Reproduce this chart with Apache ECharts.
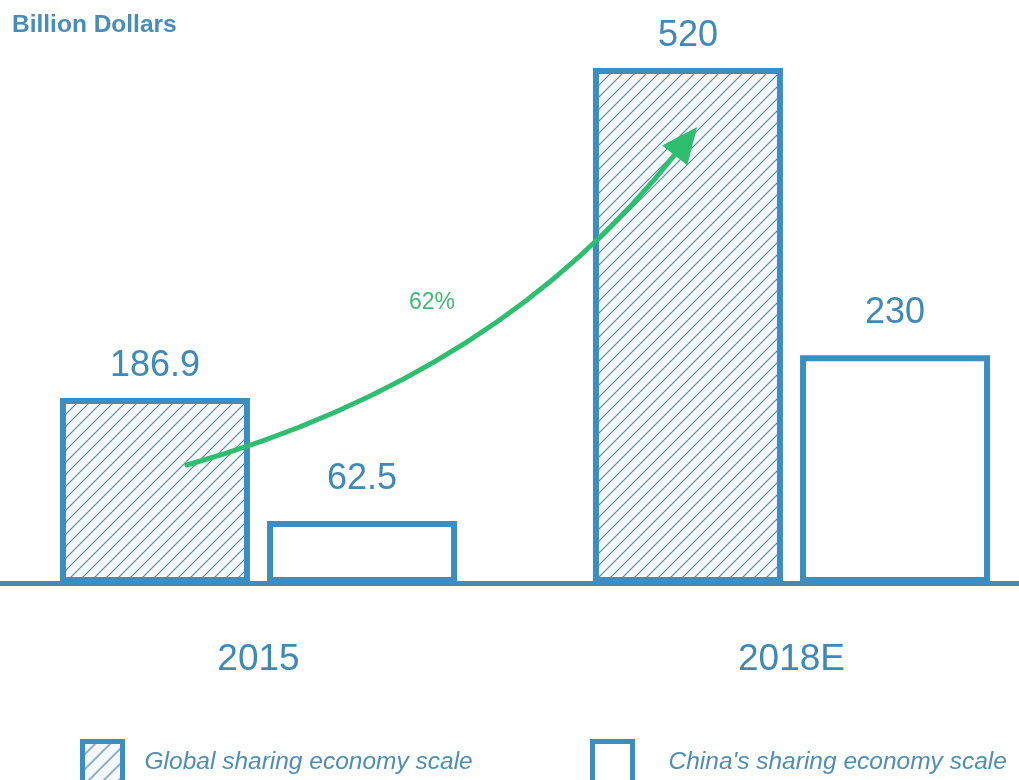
<!DOCTYPE html>
<html><head><meta charset="utf-8">
<script src="https://cdn.jsdelivr.net/npm/echarts@6/dist/echarts.min.js"></script>
<style>html,body{margin:0;padding:0;background:#fff}#c{width:1019px;height:780px}</style>
</head><body><div id="c"></div>
<script>
const categories = ['2015', '2018E'];
const globalScale = [186.9, 520];
const chinaScale = [62.5, 230];
const seriesNames = ['Global sharing economy scale', "China's sharing economy scale"];
const growthLabel = '62%';
const unitLabel = 'Billion Dollars';

const BLUE = '#3b8dc2';
const TXT = '#3f89b6';
const GREEN = '#2fbd6f';
const FONT = 'Liberation Sans, Arial, Helvetica, sans-serif';

function hatch(size, lw) {
  const c = document.createElement('canvas');
  c.width = size; c.height = size;
  const g = c.getContext('2d');
  g.fillStyle = '#f3f9fc';
  g.fillRect(0, 0, size, size);
  g.strokeStyle = '#62869f';
  g.lineWidth = lw;
  g.beginPath();
  g.moveTo(0, size); g.lineTo(size, 0);
  g.moveTo(-size / 2, size / 2); g.lineTo(size / 2, -size / 2);
  g.moveTo(size / 2, size * 1.5); g.lineTo(size * 1.5, size / 2);
  g.stroke();
  return c;
}
const hatchFill = { image: hatch(12, 1.2), repeat: 'repeat' };
const hatchFillLegend = { image: hatch(15, 1.3), repeat: 'repeat' };

const chart = echarts.init(document.getElementById('c'));

// arrow geometry (annotation)
const P0 = [187, 465], P1 = [501, 376], P2 = [677, 152];
const tip = [697, 127];
const dx = P2[0] - P1[0], dy = P2[1] - P1[1];
const L = Math.hypot(dx, dy);
const ux = dx / L, uy = dy / L;
const bx = tip[0] - 36 * ux, by = tip[1] - 36 * uy;
const px = -uy, py = ux;
const head = [[tip[0], tip[1]], [bx + 16 * px, by + 16 * py], [bx - 16 * px, by - 16 * py]];

const legendText = { fontSize: 24.5, fontStyle: 'italic', color: '#4f8db3', fontFamily: FONT };

chart.setOption({
  animation: false,
  backgroundColor: '#ffffff',
  textStyle: { fontFamily: FONT },
  grid: { left: -8, width: 1066, top: 68, bottom: 197, containLabel: false, outerBoundsMode: 'none' },
  title: {
    text: unitLabel, left: 7, top: 8,
    textStyle: { fontSize: 24.5, fontWeight: 'bold', color: '#4a8cb8', fontFamily: FONT }
  },
  legend: [
    { data: [seriesNames[0]], left: 80, top: 739, padding: 0, itemWidth: 40, itemHeight: 42, itemGap: 0,
      icon: 'rect',
      itemStyle: { color: hatchFillLegend, borderColor: BLUE, borderWidth: 5 },
      textStyle: Object.assign({ padding: [0, 0, 0, 17] }, legendText) },
    { data: [seriesNames[1]], left: 590, top: 739, padding: 0, itemWidth: 40, itemHeight: 42, itemGap: 0,
      icon: 'rect',
      itemStyle: { color: '#ffffff', borderColor: BLUE, borderWidth: 5 },
      textStyle: Object.assign({ padding: [0, 0, 0, 31] }, legendText) }
  ],
  xAxis: {
    type: 'category', data: categories,
    axisLine: { lineStyle: { color: BLUE, width: 5 } },
    axisTick: { show: false },
    axisLabel: { fontSize: 37, color: TXT, margin: 58 }
  },
  yAxis: { type: 'value', min: 0, max: 520, show: false, splitLine: { show: false } },
  series: [
    { name: seriesNames[0], type: 'bar', data: globalScale, barWidth: 190, barGap: '9%',
      itemStyle: { color: hatchFill, borderColor: BLUE, borderWidth: 6 },
      label: { show: true, position: 'top', distance: 14, fontSize: 36, color: TXT } },
    { name: seriesNames[1], type: 'bar', data: chinaScale, barWidth: 190,
      itemStyle: { color: '#ffffff', borderColor: BLUE, borderWidth: 6 },
      label: { show: true, position: 'top', distance: 24, fontSize: 36, color: TXT } }
  ],
  graphic: [
    { type: 'bezierCurve', z: 100,
      shape: { x1: P0[0], y1: P0[1], x2: P2[0], y2: P2[1], cpx1: P1[0], cpy1: P1[1] },
      style: { stroke: GREEN, lineWidth: 5, fill: null, lineCap: 'round' } },
    { type: 'polygon', z: 100, shape: { points: head }, style: { fill: GREEN } },
    { type: 'text', z: 100, left: 409, top: 291,
      style: { text: growthLabel, fontSize: 23, fill: '#3dbb74', fontFamily: FONT } }
  ]
});
</script></body></html>
